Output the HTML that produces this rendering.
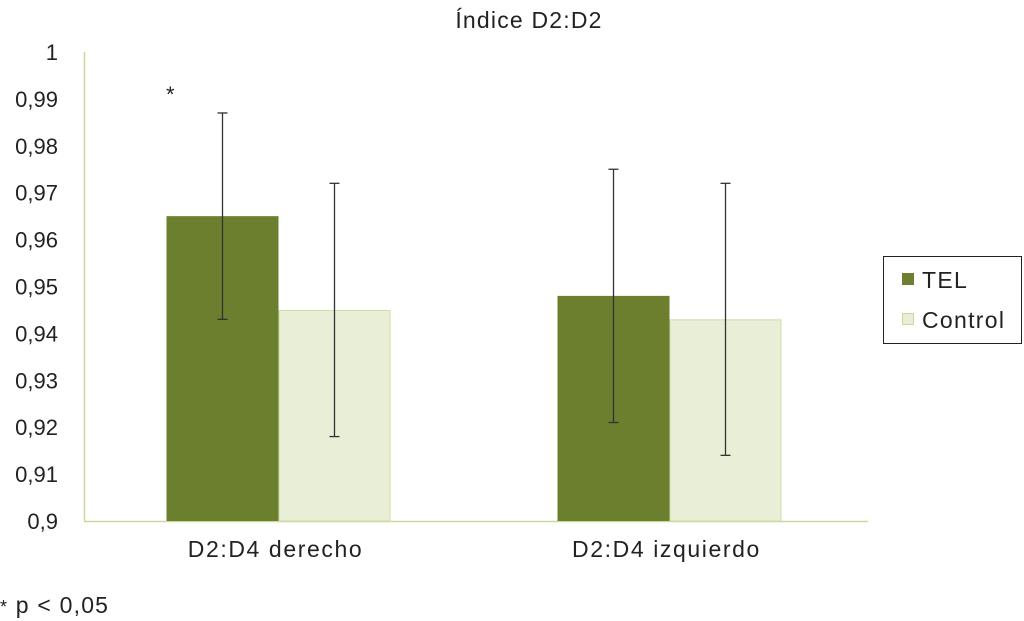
<!DOCTYPE html>
<html><head><meta charset="utf-8"><style>
html,body{margin:0;padding:0;background:#fff;}
svg{display:block;font-family:"Liberation Sans",Arial,sans-serif;}
</style></head><body>
<svg id="chart" width="1024" height="621" viewBox="0 0 1024 621">
<text x="529" y="28" font-size="23" letter-spacing="1.2" text-anchor="middle" fill="#222">Índice D2:D2</text>
<g id="yaxis"></g>
<g id="bars"></g>
<g id="errs"></g>
<text x="166" y="102" font-size="22" fill="#222">*</text>
<g>
<rect x="883.5" y="256.5" width="138" height="87" fill="#fff" stroke="#222" stroke-width="1"/>
<g>
<rect x="902" y="273" width="12" height="12" fill="#6b7f2e"/>
<text x="922" y="288" font-size="23" letter-spacing="1.3" fill="#222">TEL</text></g>
<g>
<rect x="902.5" y="313.5" width="11" height="11" fill="#e9eed7" stroke="#c9d99a"/>
<text x="922" y="328" font-size="23" letter-spacing="1.3" fill="#222">Control</text></g>
</g>
<text x="0" y="613" font-size="23" letter-spacing="1.2" fill="#222"><tspan font-size="18">*</tspan> p &lt; 0,05</text>
</svg>
<script>
const categories = ["D2:D4 derecho", "D2:D4 izquierdo"];
const telValues = [0.965, 0.948];
const controlValues = [0.945, 0.943];
const telLow = [0.943, 0.921];
const telHigh = [0.987, 0.975];
const controlLow = [0.918, 0.914];
const controlHigh = [0.972, 0.972];
const yTicks = [0.9,0.91,0.92,0.93,0.94,0.95,0.96,0.97,0.98,0.99,1];
const yTickLabels = ["0,9","0,91","0,92","0,93","0,94","0,95","0,96","0,97","0,98","0,99","1"];

const NS="http://www.w3.org/2000/svg";
const y0=521, y1=52, vmin=0.9, vmax=1;
const yScale=v=>y0-(v-vmin)/(vmax-vmin)*(y0-y1);
const axisX=84, plotRight=868, groupStart=83, groupW=391, barW=112;
function mk(tag,attrs,parent){const e=document.createElementNS(NS,tag);for(const k in attrs)e.setAttribute(k,attrs[k]);parent.appendChild(e);return e;}
const ya=document.getElementById('yaxis');
const axl=mk('line',{x1:axisX+0.5,x2:axisX+0.5,y1:y1,y2:y0,stroke:'#c9d99a','stroke-width':1.5},ya);


const bl=mk('line',{x1:axisX,x2:plotRight,y1:y0+0.5,y2:y0+0.5,stroke:'#c9d99a','stroke-width':1.5},ya);


yTicks.forEach((t,i)=>{
  const tl=mk('text',{x:58,y:yScale(t)+8,'font-size':22,'text-anchor':'end',fill:'#222'},ya);
  tl.textContent=yTickLabels[i];
  
  
});
const bars=document.getElementById('bars'), errs=document.getElementById('errs');
function err(cx,lo,hi){
  const g=mk('g',{stroke:'#333','stroke-width':1.3},errs);
  
  
  mk('line',{x1:cx,x2:cx,y1:yScale(hi),y2:yScale(lo)},g);
  mk('line',{x1:cx-5,x2:cx+5,y1:yScale(hi),y2:yScale(hi)},g);
  mk('line',{x1:cx-5,x2:cx+5,y1:yScale(lo),y2:yScale(lo)},g);
}
categories.forEach((c,i)=>{
  const gc=groupStart+groupW*(i+0.5);
  const xt=gc-barW, xc=gc;
  const b1=mk('rect',{x:xt,y:yScale(telValues[i]),width:barW,height:y0-yScale(telValues[i]),fill:'#6b7f2e'},bars);
  
  
  const b2=mk('rect',{x:xc+0.5,y:yScale(controlValues[i])+0.5,width:barW-1,height:y0-yScale(controlValues[i])-0.5,fill:'#e9eed7',stroke:'#cfdca6'},bars);
  
  
  err(xt+barW/2,telLow[i],telHigh[i]);
  err(xc+barW/2,controlLow[i],controlHigh[i]);
  const lab=mk('text',{x:gc-3,y:557,'font-size':23,'letter-spacing':1.6,'text-anchor':'middle',fill:'#222'},bars);
  lab.textContent=c;
  
  
});
</script>
</body></html>
